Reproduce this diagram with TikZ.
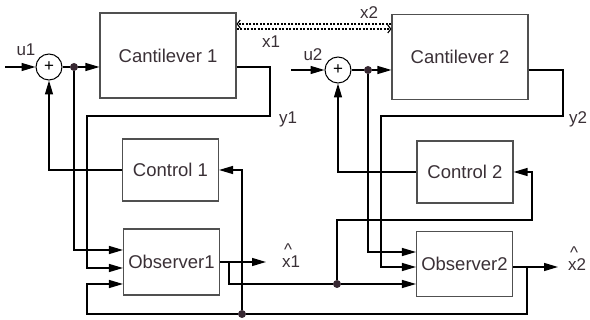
\documentclass[tikz,border=0pt]{standalone}
\usepackage{fontspec}
\setmainfont{Liberation Sans}
\usetikzlibrary{arrows.meta, positioning, calc}
\definecolor{boxgray}{RGB}{80,80,80}
\definecolor{textgray}{RGB}{58,48,54}
\definecolor{dotgray}{RGB}{55,40,50}

\begin{document}
\begin{tikzpicture}[
  x=1pt, y=-1pt,
  block/.style={draw=boxgray, line width=1.1pt, text=textgray, inner sep=0pt,
    font=\fontsize{18.5}{22}\selectfont},
  plant/.style={block, minimum width=136pt, minimum height=85pt},
  unit/.style={block, minimum width=96pt, minimum height=#1},
  sum/.style={circle, draw=black, line width=1pt, minimum size=26pt, inner sep=0pt,
    font=\fontsize{17}{17}\selectfont},
  tap/.style={circle, fill=dotgray, minimum size=8pt, inner sep=0pt},
  lbl/.style={text=textgray, font=\fontsize{17}{20}\selectfont, inner sep=0pt},
  hatlbl/.style={lbl, anchor=base west, align=left,
    font=\fontsize{17}{11}\selectfont},
  sig/.style={line width=1.3pt, -{Triangle[length=14pt, width=8pt]}},
  wire/.style={line width=1.3pt},
  link/.style={line width=1.1pt, dash pattern=on 2pt off 1.5pt,
    -{Straight Barb[length=3pt, width=8pt]}},
]
  \useasboundingbox (0,0) rectangle (590,320);

  \node[plant] (cant1) at (168,55.5) {Cantilever 1};
  \node[plant] (cant2) at (460,57) {Cantilever 2};
  \node[unit=62pt] (ctrl1) at (170.5,170) {Control 1};
  \node[unit=62pt] (ctrl2) at (465,172) {Control 2};
  \node[unit=66pt] (obs1) at (171.5,262) {Observer1};
  \node[unit=65pt] (obs2) at (464.5,264) {Observer2};

  \node[sum] (sum1) at (49,67) {+};
  \node[sum] (sum2) at (338,70) {+};
  \node[tap] (tap1) at (74,67) {};
  \node[tap] (tap2) at (368,70) {};
  \node[tap] (tap3) at (242,314) {};
  \node[tap] (tap4) at (337,284) {};

  \coordinate (u1in) at (5,67);
  \coordinate (u2in) at (291,70);
  \coordinate (xh1end) at (266,262);
  \coordinate (xh2end) at (558,267);

  \node[lbl] (u1) at (26,50) {u1};
  \node[lbl] (u2) at (313,55) {u2};
  \node[lbl] (y1) at (288,119) {y1};
  \node[lbl] (y2) at (578,119) {y2};
  \node[lbl] (x1) at (271,42) {x1};
  \node[lbl] (x2) at (369,13) {x2};
  \node[hatlbl] (xh1) at (282,268) {\kern2pt\textasciicircum\\x1};
  \node[hatlbl] (xh2) at (568,271) {\kern2pt\textasciicircum\\x2};

  \draw[link] (cant2.west |- 0,24) -- (cant1.east |- 0,24);
  \draw[link] (cant1.east |- 0,29) -- (cant2.west |- 0,29);

  \draw[sig] (u1in) -- (sum1);
  \draw[wire] (sum1) -- (tap1);
  \draw[sig] (tap1) -- (cant1.west |- tap1);
  \draw[sig] (cant1.east |- tap1) -- (270,67) -- (270,116) -- (87,116)
    |- ([yshift=-6pt]obs1.west);
  \draw[sig] (ctrl1.west) -| (sum1.south);
  \draw[sig] (tap1) |- ([yshift=12pt]obs1.west);
  \draw[sig] (obs1.east) -- (xh1end);
  \draw[wire] ([xshift=9pt]obs1.east) |- (tap4);
  \draw[sig] (tap4) -- (obs2.west |- tap4);
  \draw[sig] (tap4) |- (532,220) |- (ctrl2.east);

  \draw[sig] (u2in) -- (sum2);
  \draw[wire] (sum2) -- (tap2);
  \draw[sig] (tap2) -- (cant2.west |- tap2);
  \draw[sig] (cant2.east |- tap2) -- (563,70) -- (563,116) -- (381,116)
    |- ([yshift=-3pt]obs2.west);
  \draw[sig] (ctrl2.west) -| (sum2.south);
  \draw[sig] (tap2) |- ([yshift=12pt]obs2.west);
  \draw[sig] ([yshift=-3pt]obs2.east) -- (xh2end);
  \draw[wire] (527,267) |- (tap3);
  \draw[sig] (tap3) -- (87,314) |- ([yshift=-22pt]obs1.west);
  \draw[sig] (tap3) |- (ctrl1.east);
\end{tikzpicture}
\end{document}
